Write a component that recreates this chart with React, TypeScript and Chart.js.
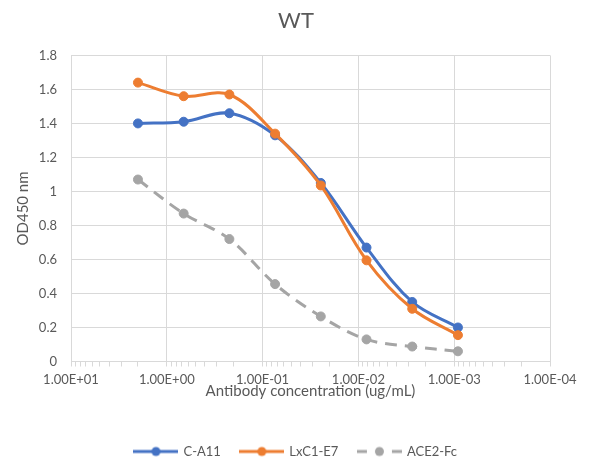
import React, { useEffect, useRef } from "react";
import { Chart, registerables } from "chart.js";

Chart.register(...registerables);

// ---- data ----
const concentrations = [2, 0.6667, 0.2222, 0.07407, 0.02469, 0.00823, 0.002743, 0.000914];
const seriesNames = ["C-A11", "LxC1-E7", "ACE2-Fc"];
const cA11 = [1.40, 1.41, 1.46, 1.33, 1.05, 0.67, 0.35, 0.20];
const lxC1E7 = [1.64, 1.56, 1.57, 1.34, 1.035, 0.595, 0.31, 0.155];
const ace2Fc = [1.07, 0.87, 0.72, 0.455, 0.265, 0.13, 0.088, 0.06];
const xDecadeTicks = [10, 1, 0.1, 0.01, 0.001, 0.0001];
const xMinorMultipliers = [2, 3, 4, 5, 6, 7, 8, 9];
const yTicks = [0, 0.2, 0.4, 0.6, 0.8, 1, 1.2, 1.4, 1.6, 1.8];

const seriesValues = [cA11, lxC1E7, ace2Fc];
const colors = ["#4472c4", "#ed7d31", "#a5a5a5"];
const dashed = [false, false, true];

const TEXT = "#595959";
const GRID = "#d9d9d9";
const FONT = "Lato";

const isDecade = (v: number) => Math.abs(Math.log10(v) - Math.round(Math.log10(v))) < 1e-6;

function sciLabel(v: number) {
  const [m, e] = v.toExponential(2).toUpperCase().split("E");
  const n = parseInt(e, 10);
  return `${m}E${n < 0 ? "-" : "+"}${String(Math.abs(n)).padStart(2, "0")}`;
}

function makeLegendImage(color: string, isDashed: boolean) {
  const c = document.createElement("canvas");
  c.width = 45;
  c.height = 12;
  const g = c.getContext("2d")!;
  g.strokeStyle = color;
  g.fillStyle = color;
  g.lineWidth = 3;
  g.beginPath();
  if (isDashed) {
    g.moveTo(0, 6);
    g.lineTo(10, 6);
    g.moveTo(35, 6);
    g.lineTo(45, 6);
  } else {
    g.moveTo(0, 6);
    g.lineTo(45, 6);
  }
  g.stroke();
  g.beginPath();
  g.arc(22.5, 6, 4.5, 0, Math.PI * 2);
  g.fill();
  return c;
}

export default function App() {
  const ref = useRef<HTMLCanvasElement | null>(null);

  useEffect(() => {
    document.body.style.margin = "0";
    if (!ref.current) return;
    Chart.defaults.font.family = FONT;
    Chart.defaults.color = TEXT;

    const legendImages = colors.map((c, i) => makeLegendImage(c, dashed[i]));

    const xTickValues: number[] = [];
    xDecadeTicks.forEach((d) => {
      xTickValues.push(d);
      if (d < 10) xMinorMultipliers.forEach((m) => xTickValues.push(+(d * m).toPrecision(6)));
    });
    xTickValues.sort((a, b) => a - b);

    const datasets = seriesNames.map((name, i) => ({
      label: name,
      data: concentrations.map((x, j) => ({ x, y: seriesValues[i][j] })),
      borderColor: colors[i],
      backgroundColor: colors[i],
      pointBackgroundColor: colors[i],
      pointBorderColor: colors[i],
      borderWidth: 3,
      pointRadius: 4.5,
      pointHoverRadius: 4.5,
      pointBorderWidth: 1,
      borderDash: dashed[i] ? [12, 8] : [],
      tension: 0.35,
      fill: false,
      xAxisID: "x",
      yAxisID: "y",
      order: i === 1 ? 0 : i === 0 ? 1 : 2,
    }));

    const chart = new Chart(ref.current, {
      type: "line",
      data: { datasets },
      options: {
        animation: false,
        responsive: true,
        maintainAspectRatio: false,
        layout: { padding: { left: 0, right: 0, top: 0, bottom: 4 } },
        plugins: {
          title: {
            display: true,
            text: "WT",
            color: TEXT,
            font: { family: FONT, size: 22, weight: "normal" },
            padding: { top: 8, bottom: 21 },
          },
          legend: {
            position: "bottom",
            labels: {
              usePointStyle: true,
              pointStyleWidth: 42,
              padding: 20,
              color: TEXT,
              font: { family: FONT, size: 13 },
              sort: (a: any, b: any) => a.datasetIndex - b.datasetIndex,
              generateLabels: (ch: any) => {
                const items = Chart.defaults.plugins.legend.labels.generateLabels(ch);
                return items.map((it: any) => ({ ...it, pointStyle: legendImages[it.datasetIndex] }));
              },
            },
          },
          tooltip: { enabled: false },
        },
        scales: {
          x: {
            type: "logarithmic",
            reverse: true,
            min: 0.0001,
            max: 10,
            afterBuildTicks: (scale: any) => {
              scale.ticks = xTickValues.map((v) => ({ value: v, major: isDecade(v) }));
            },
            afterFit: (scale: any) => {
              scale.height = 63.5;
            },
            grid: {
              color: (ctx: any) => (ctx.tick && isDecade(ctx.tick.value) ? GRID : "rgba(0,0,0,0)"),
              tickColor: GRID,
              tickLength: 5,
              drawTicks: true,
            },
            border: { display: true, color: GRID, width: 1 },
            ticks: {
              autoSkip: false,
              maxRotation: 0,
              minRotation: 0,
              padding: 6,
              color: TEXT,
              font: { family: FONT, size: 13 },
              callback: (v: any) => (isDecade(Number(v)) ? sciLabel(Number(v)) : ""),
            },
            title: {
              display: true,
              text: "Antibody concentration (ug/mL)",
              color: TEXT,
              font: { family: FONT, size: 15 },
              padding: { top: 0, bottom: 25 },
            },
          },
          y: {
            type: "linear",
            position: "left",
            min: 0,
            max: 1.8,
            afterBuildTicks: (scale: any) => {
              scale.ticks = yTicks.map((v) => ({ value: v }));
            },
            afterFit: (scale: any) => {
              scale.width = 71;
            },
            grid: { color: GRID, drawTicks: false },
            border: { display: true, color: GRID, width: 1 },
            ticks: {
              padding: 14,
              color: TEXT,
              font: { family: FONT, size: 13 },
              callback: (v: any) => String(Math.round(Number(v) * 10) / 10),
            },
            title: {
              display: true,
              text: "OD450 nm",
              color: TEXT,
              font: { family: FONT, size: 15 },
              padding: { top: 14, bottom: 0 },
            },
          },
          yRightSpace: {
            type: "linear",
            position: "right",
            display: true,
            grid: { display: false, drawTicks: false },
            border: { display: false },
            ticks: { display: false },
            afterFit: (scale: any) => {
              scale.width = 42;
            },
          },
        },
      } as any,
    });

    return () => chart.destroy();
  }, []);

  return (
    <div style={{ width: 592, height: 472, position: "relative", background: "#fff" }}>
      <canvas ref={ref} />
    </div>
  );
}
